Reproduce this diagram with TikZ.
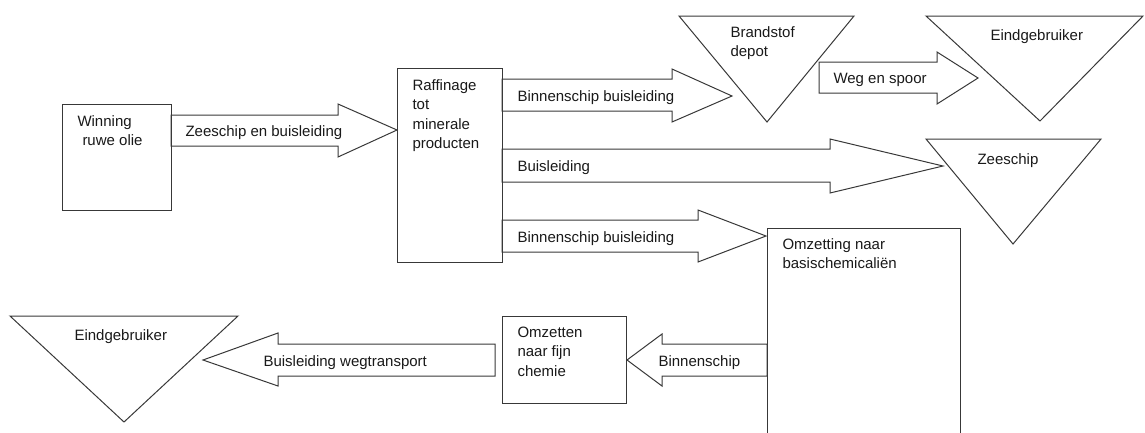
\documentclass[tikz,border=0pt]{standalone}
\usepackage{fontspec}
\setmainfont{Liberation Sans}
\begin{document}
\begin{tikzpicture}[x=1pt,y=-1pt,
  line width=1pt,
  shapeline/.style={draw=black!78, line join=miter},
  box/.style={shapeline, fill=white, inner sep=0pt},
  lbl/.style={anchor=base west, inner sep=0pt, font=\fontsize{15}{19.5}\selectfont, text=black!90}]
\useasboundingbox (0,0) rectangle (1145,432);
\clip (0,0) rectangle (1145,432);
% boxes
\node[box, minimum width=109pt, minimum height=106pt] (win) at (116.5,157) {};
\node[box, minimum width=105pt, minimum height=194pt] (raf) at (449.5,165) {};
\node[box, minimum width=124pt, minimum height=87pt] (fijn) at (564,359.5) {};
\node[box, minimum width=193pt, minimum height=212pt] (omz) at (863.5,334) {};
% triangles
\draw[shapeline] (679,16) -- (854,16) -- (767,122) -- cycle;
\draw[shapeline] (926,16) -- (1143,16) -- (1040,121) -- cycle;
\draw[shapeline] (926,139) -- (1101,139) -- (1013,244) -- cycle;
\draw[shapeline] (10,316) -- (238,316) -- (124,422) -- cycle;
% block arrows
\draw[shapeline] (171,115) -- (338,115) -- (338,104) -- (397,130) -- (338,157) -- (338,146) -- (171,146) -- cycle;
\draw[shapeline] (502,79) -- (672,79) -- (672,69) -- (732,96) -- (672,122) -- (672,111) -- (502,111) -- cycle;
\draw[shapeline] (502,149) -- (830,149) -- (830,139) -- (943,166) -- (830,193) -- (830,182) -- (502,182) -- cycle;
\draw[shapeline] (502,220) -- (698,220) -- (698,210) -- (766,236) -- (698,262) -- (698,252) -- (502,252) -- cycle;
\draw[shapeline] (819,62) -- (937,62) -- (937,52) -- (978,78) -- (937,104) -- (937,93) -- (819,93) -- cycle;
\draw[shapeline] (767,344) -- (662,344) -- (662,334) -- (627,360) -- (662,386) -- (662,376) -- (767,376) -- cycle;
\draw[shapeline] (495,344) -- (278,344) -- (278,333) -- (203,360) -- (278,386) -- (278,376) -- (495,376) -- cycle;
% texts
\node[lbl] (twin) at (77,126) {\vtop{\hbox{Winning}\hbox{\hspace{5pt}ruwe olie}}};
\node[lbl] (tzee1) at (185,136) {Zeeschip en buisleiding};
\node[lbl] (traf) at (412,90) {\vtop{\hbox{Raffinage}\hbox{tot}\hbox{minerale}\hbox{producten}}};
\node[lbl] (tbb1) at (517,101) {Binnenschip buisleiding};
\node[lbl] (tbuis) at (517,171) {Buisleiding};
\node[lbl] (tbb2) at (517,242) {Binnenschip buisleiding};
\node[lbl] (tbrand) at (730,37) {\vtop{\hbox{Brandstof}\hbox{depot}}};
\node[lbl] (tweg) at (833,83) {Weg en spoor};
\node[lbl] (teind1) at (990,40) {Eindgebruiker};
\node[lbl] (tzee2) at (977,164) {Zeeschip};
\node[lbl] (tomz) at (782,249) {\vtop{\hbox{Omzetting naar}\hbox{basischemicaliën}}};
\node[lbl] (tfijn) at (517,337) {\vtop{\hbox{Omzetten}\hbox{naar fijn}\hbox{chemie}}};
\node[lbl] (tbin) at (658,366) {Binnenschip};
\node[lbl] (tweg2) at (263,366) {Buisleiding wegtransport};
\node[lbl] (teind2) at (74,340) {Eindgebruiker};
\end{tikzpicture}
\end{document}
